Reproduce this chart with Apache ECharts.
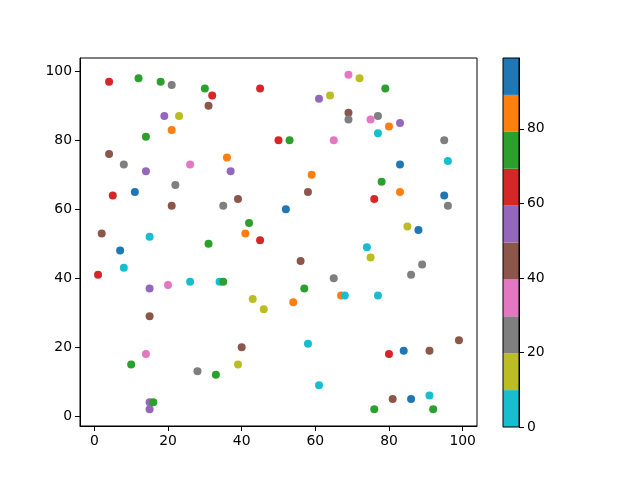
<!DOCTYPE html>
<html><head><meta charset="utf-8">
<script src="https://cdn.jsdelivr.net/npm/echarts@6/dist/echarts.min.js"></script>
<style>html,body{margin:0;padding:0;background:#fff}#c{width:640px;height:480px}</style>
</head><body><div id="c"></div>
<script>
const xs = [1,2,4,4,5,7,8,8,10,11,12,14,14,14,15,15,15,15,15,16,18,19,20,21,21,21,22,23,26,26,28,30,31,31,32,33,34,35,35,36,37,39,39,40,41,42,43,45,45,46,50,52,53,54,56,57,58,58,59,61,61,64,65,65,67,68,69,69,69,72,74,75,75,76,76,77,77,77,78,79,80,80,81,83,83,83,84,85,86,86,88,89,91,91,92,95,95,96,96,99];
const ys = [41,53,97,76,64,48,73,43,15,65,98,81,71,18,52,37,29,4,2,4,97,87,38,96,83,61,67,87,73,39,13,95,90,50,93,12,39,39,61,75,71,63,15,20,53,56,34,95,51,31,80,60,80,33,45,37,65,21,70,92,9,93,80,40,35,35,99,88,86,98,49,86,46,63,2,87,82,35,68,95,84,18,5,85,73,65,19,55,41,5,54,44,6,19,2,80,64,74,61,22];
const cs = [65,45,65,45,65,95,25,5,75,95,
75,75,55,35,5,55,45,55,55,75,
75,55,35,25,85,45,25,15,35,5,
25,75,45,75,65,75,5,75,25,85,
55,45,15,45,85,75,15,65,65,15,
65,95,75,85,45,75,45,5,85,55,
5,15,35,25,85,5,35,45,25,15,
5,35,15,65,75,25,5,5,75,75,
85,65,45,55,95,85,95,15,25,95,
95,25,5,45,75,25,95,5,25,45];
const binEdges = [0,9.9,19.8,29.7,39.6,49.5,59.4,69.3,79.2,89.1,99];
const binColors = ['#17becf','#bcbd22','#7f7f7f','#e377c2','#8c564b','#9467bd','#d62728','#2ca02c','#ff7f0e','#1f77b4'];
const xTicks = [0,20,40,60,80,100];
const yTicks = [0,20,40,60,80,100];
const cbTicks = [0,20,40,60,80];

const font = {fontFamily:'DejaVu Sans', fontSize:13.9, color:'#000'};
const pieces = binColors.map((c,i)=>({gte:binEdges[i], lt:binEdges[i+1], color:c}));
pieces[pieces.length-1] = {gte:binEdges[9], lte:binEdges[10]+1, color:binColors[9]};

const chart = echarts.init(document.getElementById('c'), null, {renderer:'canvas'});
const cbSeries = binColors.map((c,i)=>({
  type:'bar', xAxisIndex:1, yAxisIndex:1, stack:'cb', barWidth:'100%', barCategoryGap:0,
  data:[binEdges[i+1]-binEdges[i]], itemStyle:{color:c}, silent:true, animation:false
}));
chart.setOption({
  animation:false,
  grid:[
    {left:80, right:163, top:58, bottom:54, show:true, borderColor:'#000', borderWidth:1, backgroundColor:'transparent'},
    {left:503, right:121, top:58, bottom:53, show:true, borderColor:'#000', borderWidth:1, backgroundColor:'transparent', z:10}
  ],
  xAxis:[
    {type:'value', gridIndex:0, min:-3.9, max:103.9, splitLine:{show:false},
     axisLine:{show:true, onZero:false, lineStyle:{color:'#000'}},
     axisTick:{show:true, inside:false, length:5, customValues:xTicks, lineStyle:{color:'#000'}},
     axisLabel:{...font, margin:8, customValues:xTicks}},
    {type:'category', gridIndex:1, data:['c'], show:false}
  ],
  yAxis:[
    {type:'value', gridIndex:0, min:-2.85, max:103.85, splitLine:{show:false},
     axisLine:{show:true, onZero:false, lineStyle:{color:'#000'}},
     axisTick:{show:true, inside:false, length:5, customValues:yTicks, lineStyle:{color:'#000'}},
     axisLabel:{...font, margin:8, customValues:yTicks}},
    {type:'value', gridIndex:1, position:'right', min:binEdges[0], max:binEdges[10], splitLine:{show:false},
     axisLine:{show:true, lineStyle:{color:'#000'}},
     axisTick:{show:true, inside:false, length:5, customValues:cbTicks, lineStyle:{color:'#000'}},
     axisLabel:{...font, margin:8, customValues:cbTicks}}
  ],
  visualMap:{type:'piecewise', show:false, seriesIndex:0, dimension:2, pieces:pieces},
  series:[
    {type:'scatter', xAxisIndex:0, yAxisIndex:0, symbolSize:8,
     data: xs.map((x,i)=>[x, ys[i], cs[i]]), itemStyle:{opacity:1}}
  ].concat(cbSeries)
});
</script></body></html>
